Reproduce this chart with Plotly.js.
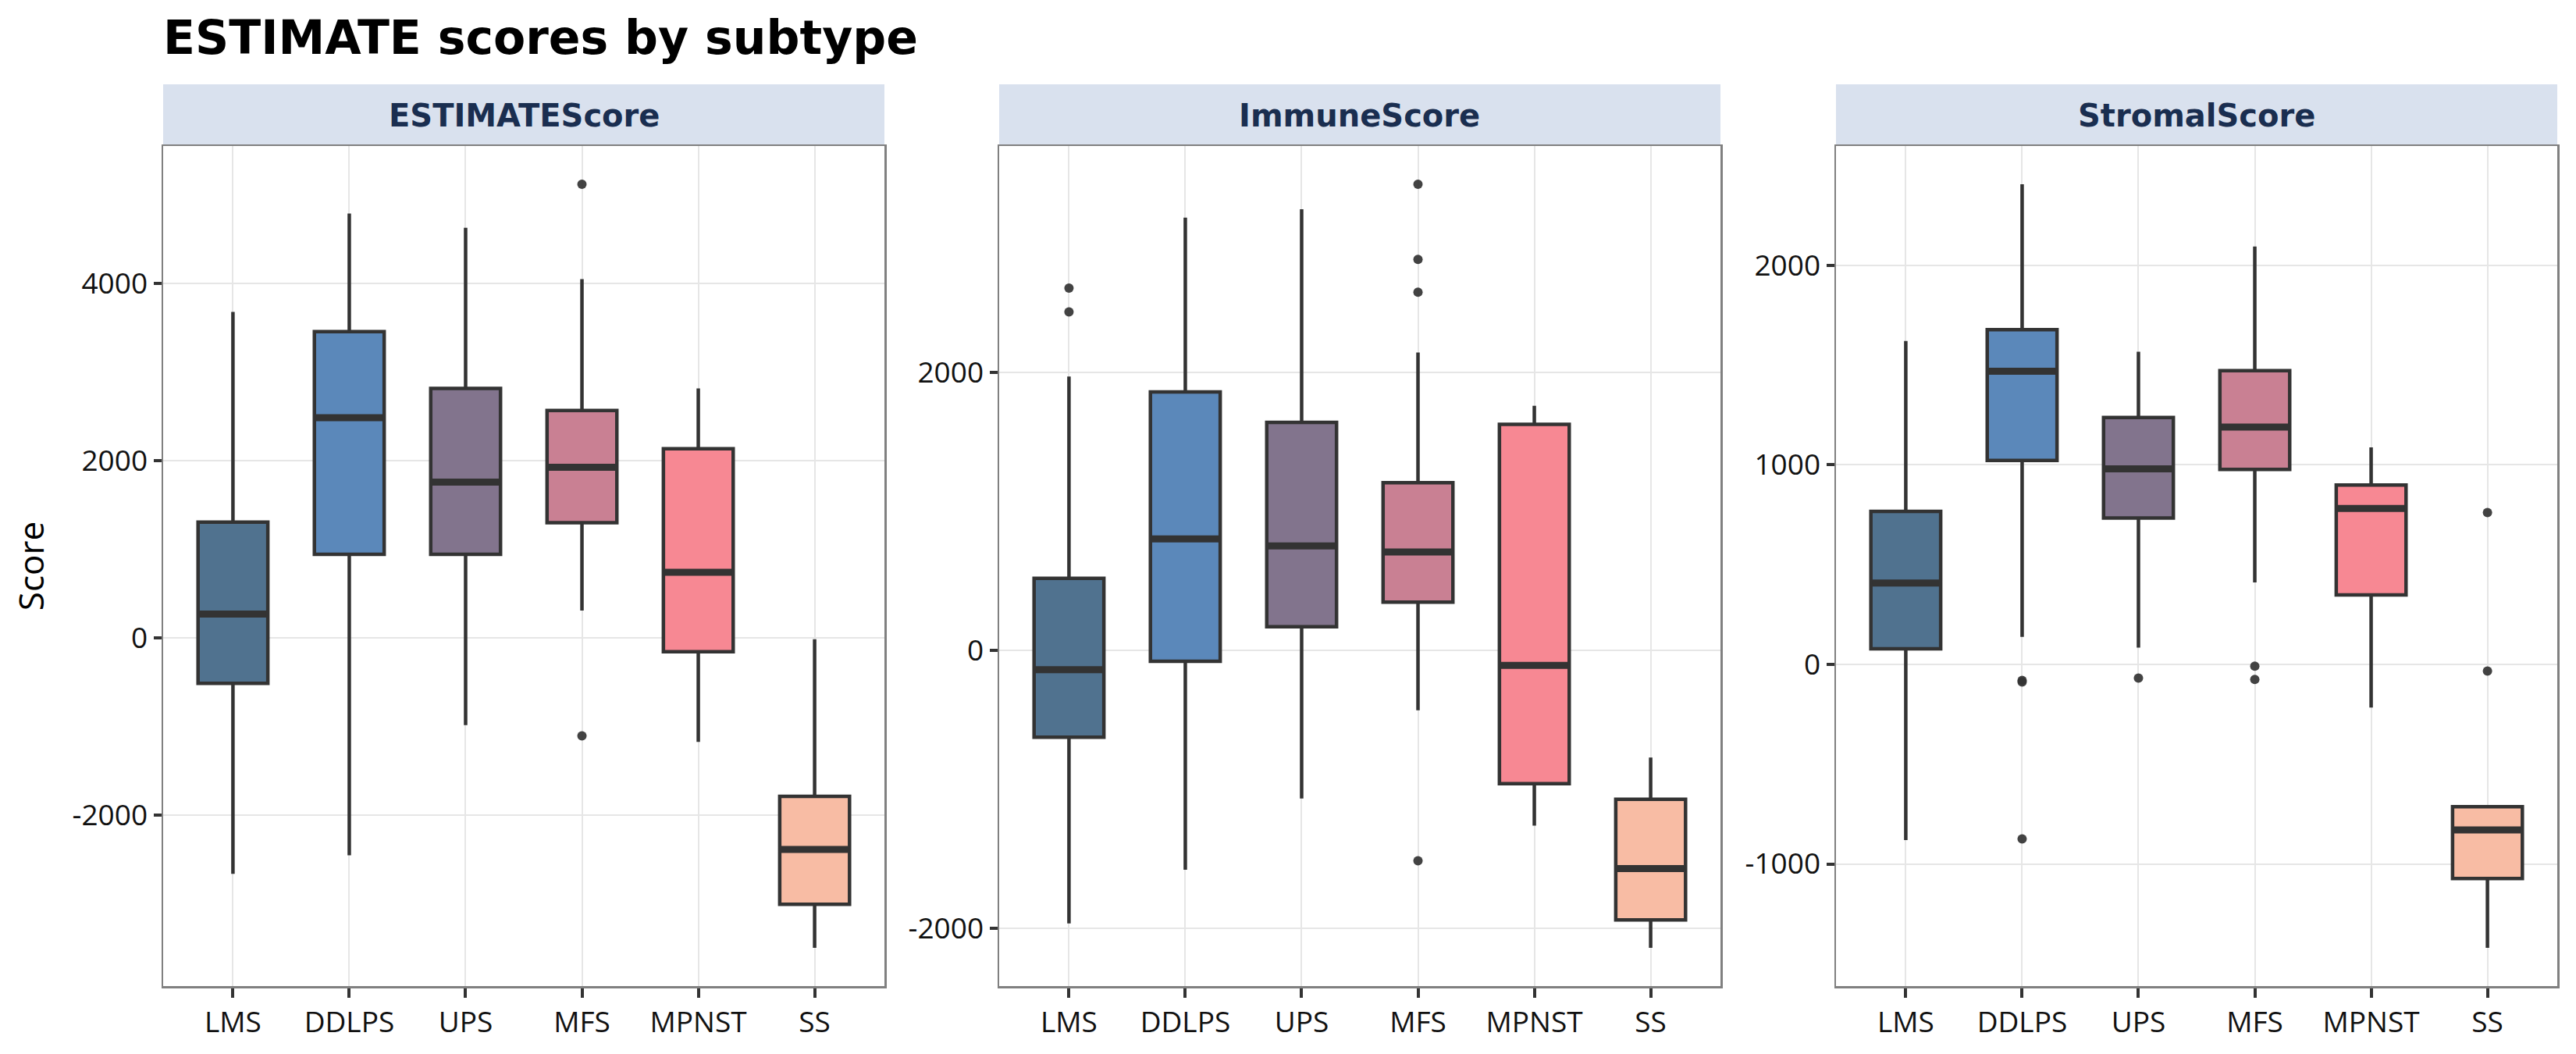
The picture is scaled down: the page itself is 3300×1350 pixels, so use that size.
<!DOCTYPE html>
<html>
<head>
<meta charset="utf-8">
<script src="https://cdn.plot.ly/plotly-3.0.1.min.js"></script>
<style>html,body{margin:0;padding:0;background:#fff}#chart{width:3300px;height:1350px}</style>
</head>
<body>
<div id="chart"></div>
<script>
const categories = ["LMS", "DDLPS", "UPS", "MFS", "MPNST", "SS"];
const panelNames = ["ESTIMATEScore", "ImmuneScore", "StromalScore"];
const fillColors = ["#50728f", "#5b88ba", "#82748d", "#c98093", "#f78893", "#f8bca4"];

// ESTIMATEScore
const estQ1 = [-512, 943, 943, 1300, -155, -3003];
const estMedian = [269, 2485, 1758, 1926, 741, -2384];
const estQ3 = [1306, 3455, 2815, 2566, 2135, -1785];
const estLower = [-2660, -2451, -983, 310, -1172, -3495];
const estUpper = [3677, 4788, 4626, 4047, 2815, -13];
const estOutCat = ["MFS", "MFS"];
const estOutVal = [5118, -1104];

// ImmuneScore
const immQ1 = [-623, -77, 172, 348, -958, -1938];
const immMedian = [-137, 803, 752, 709, -107, -1568];
const immQ3 = [520, 1860, 1641, 1207, 1628, -1070];
const immLower = [-1963, -1577, -1065, -430, -1259, -2139];
const immUpper = [1972, 3115, 3175, 2144, 1761, -769];
const immOutCat = ["LMS", "LMS", "MFS", "MFS", "MFS", "MFS"];
const immOutVal = [2608, 2436, 3355, 2814, 2578, -1512];

// StromalScore
const strQ1 = [78, 1022, 734, 977, 348, -1073];
const strMedian = [408, 1469, 980, 1190, 782, -830];
const strQ3 = [767, 1678, 1238, 1472, 899, -713];
const strLower = [-881, 138, 84, 411, -216, -1421];
const strUpper = [1621, 2407, 1567, 2095, 1088, -707];
const strOutCat = ["DDLPS", "DDLPS", "DDLPS", "UPS", "MFS", "MFS", "SS", "SS"];
const strOutVal = [-80, -88, -875, -69, -9, -75, 761, -33];

// tick labels
const estTickVals = [-2000, 0, 2000, 4000];
const estTickText = ["-2000", "0", "2000", "4000"];
const immTickVals = [-2000, 0, 2000];
const immTickText = ["-2000", "0", "2000"];
const strTickVals = [-1000, 0, 1000, 2000];
const strTickText = ["-1000", "0", "1000", "2000"];

const panels = [
  {q1: estQ1, med: estMedian, q3: estQ3, lo: estLower, hi: estUpper, oc: estOutCat, ov: estOutVal, tv: estTickVals, tt: estTickText},
  {q1: immQ1, med: immMedian, q3: immQ3, lo: immLower, hi: immUpper, oc: immOutCat, ov: immOutVal, tv: immTickVals, tt: immTickText},
  {q1: strQ1, med: strMedian, q3: strQ3, lo: strLower, hi: strUpper, oc: strOutCat, ov: strOutVal, tv: strTickVals, tt: strTickText}
];

const W = 3300, H = 1350;
const xDomPx = [[209, 1133], [1280, 2204], [2352, 3276]];
const yTopPx = 187, yBotPx = 1263, stripTopPx = 108;
const yDom = [(H - yBotPx) / H, (H - yTopPx) / H];
const boxW = 0.6;
const catPos = categories.map((c, i) => i + 1);

const traces = [];
const layout = {
  width: W, height: H,
  margin: {l: 0, r: 0, t: 0, b: 0},
  paper_bgcolor: "#ffffff",
  plot_bgcolor: "#ffffff",
  showlegend: false,
  title: {
    text: "ESTIMATE scores by subtype",
    x: 209 / W, xanchor: "left", xref: "paper",
    y: 1 - 48 / H, yanchor: "middle", yref: "container",
    font: {family: "DejaVu Sans", size: 60, color: "#000000", weight: "bold"}
  },
  shapes: [],
  annotations: []
};

panels.forEach((p, k) => {
  const sfx = k === 0 ? "" : String(k + 1);
  const xa = "x" + sfx, ya = "y" + sfx;
  categories.forEach((c, i) => {
    traces.push({
      type: "box", xaxis: xa, yaxis: ya,
      x: [catPos[i]], q1: [p.q1[i]], median: [p.med[i]], q3: [p.q3[i]],
      lowerfence: [p.lo[i]], upperfence: [p.hi[i]],
      width: boxW, boxpoints: false,
      fillcolor: fillColors[i],
      line: {color: "#333333", width: 4.5},
      whiskerwidth: 0, hoverinfo: "skip"
    });
    traces.push({
      type: "scatter", mode: "lines", xaxis: xa, yaxis: ya,
      x: [catPos[i] - boxW / 2 + 0.014, catPos[i] + boxW / 2 - 0.014],
      y: [p.med[i], p.med[i]],
      line: {color: "#333333", width: 9}, hoverinfo: "skip"
    });
  });
  traces.push({
    type: "scatter", mode: "markers", xaxis: xa, yaxis: ya,
    x: p.oc.map(c => categories.indexOf(c) + 1), y: p.ov,
    marker: {color: "rgba(51,51,51,0.92)", size: 12, line: {width: 0}},
    hoverinfo: "skip"
  });
  const all = p.lo.concat(p.hi, p.ov);
  const mn = Math.min(...all), mx = Math.max(...all), pad = 0.05 * (mx - mn);
  const xd = [xDomPx[k][0] / W, xDomPx[k][1] / W];
  layout["xaxis" + sfx] = {
    domain: xd, anchor: ya, range: [0.4, 6.6],
    tickvals: catPos, ticktext: categories,
    showgrid: true, gridcolor: "#e6e6e6", gridwidth: 2, zeroline: false,
    showline: true, mirror: true, linecolor: "#808080", linewidth: 2.5,
    ticks: "outside", ticklen: 12, tickwidth: 4, tickcolor: "#333333",
    tickfont: {family: "Open Sans", size: 37, color: "#111111"},
    fixedrange: true
  };
  layout["yaxis" + sfx] = {
    domain: yDom, anchor: xa, range: [mn - pad, mx + pad],
    tickvals: p.tv, ticktext: p.tt,
    showgrid: true, gridcolor: "#e6e6e6", gridwidth: 2, zeroline: false,
    showline: true, mirror: true, linecolor: "#808080", linewidth: 2.5,
    ticks: "outside", ticklen: 10, tickwidth: 4, tickcolor: "#333333",
    tickfont: {family: "Open Sans", size: 37, color: "#111111"},
    fixedrange: true
  };
  layout.shapes.push({
    type: "rect", xref: "paper", yref: "paper",
    x0: xd[0], x1: xd[1], y0: yDom[1], y1: (H - stripTopPx) / H,
    fillcolor: "#d9e1ee", line: {width: 0}, layer: "below"
  });
  layout.annotations.push({
    xref: "paper", yref: "paper", x: (xd[0] + xd[1]) / 2, y: (H - (stripTopPx + yTopPx) / 2) / H,
    xanchor: "center", yanchor: "middle", showarrow: false,
    text: "<b>" + panelNames[k] + "</b>",
    font: {family: "DejaVu Sans", size: 40, color: "#1a2e50"}
  });
});

layout.yaxis.title = {text: "Score", font: {family: "Open Sans", size: 44, color: "#000000"}, standoff: 22};

Plotly.newPlot("chart", traces, layout, {staticPlot: true, displayModeBar: false});
</script>
</body>
</html>
